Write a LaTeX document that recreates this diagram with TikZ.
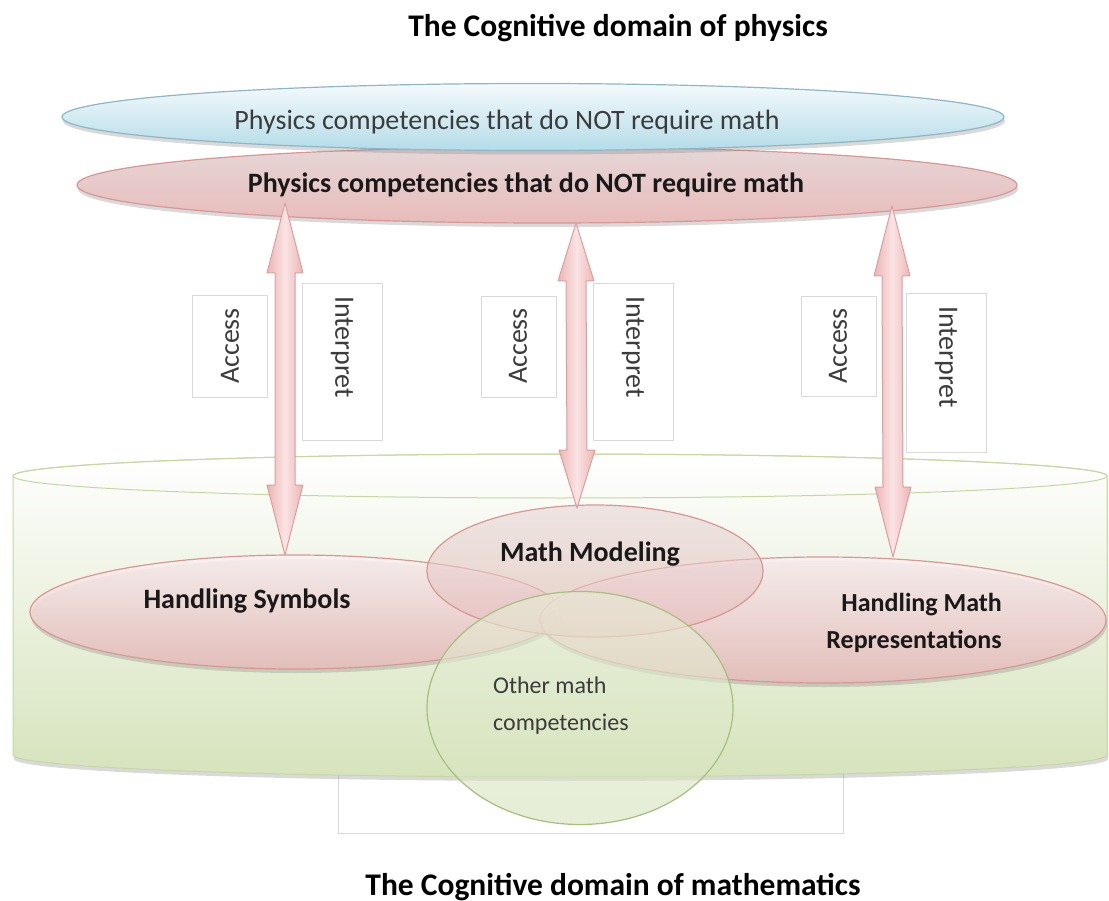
\documentclass[tikz,border=0pt]{standalone}
\usepackage{fontspec}
\setmainfont{Carlito}
\usetikzlibrary{shapes.geometric,shadows,calc}
\definecolor{bluefill}{HTML}{B4DCE8}
\definecolor{bluetop}{HTML}{F4FAFC}
\definecolor{blueedge}{HTML}{8DB6C6}
\definecolor{pinkfill}{HTML}{E8BCBB}
\definecolor{pinktop}{HTML}{E6D6D6}
\definecolor{pinklight}{HTML}{FBF1F1}
\definecolor{pinkedge}{HTML}{D99694}
\definecolor{arrowfill}{HTML}{EDB4B4}
\definecolor{arrowlight}{HTML}{FAE4E4}
\definecolor{arrowedge}{HTML}{DE9E9E}
\definecolor{greenfill}{HTML}{D6E3BC}
\definecolor{greenedge}{HTML}{C6D89F}
\definecolor{circedge}{HTML}{A8BF7C}
\definecolor{txtgray}{HTML}{3C3C3C}

\tikzset{
  oval/.style={ellipse, inner sep=0pt, line width=1.2pt},
  softshadow/.style={drop shadow={opacity=0.3, shadow xshift=1pt, shadow yshift=-4pt}},
  pinkoval/.style={oval, draw=pinkedge, top color=pinklight, bottom color=pinkfill},
  lblbox/.style={draw=gray!30, fill=white, line width=0.8pt,
    drop shadow={opacity=0.12, shadow xshift=1pt, shadow yshift=-1pt}},
  lbltext/.style={text=txtgray, inner sep=0pt},
  boldtext/.style={font=\bfseries\fontsize{28}{34}\selectfont, text=black!90, inner sep=0pt},
  accarrow/.style={draw=arrowedge, line width=1pt, line join=round,
    left color=arrowfill, right color=arrowfill, middle color=arrowlight},
}

% fat double arrow between two named points (top, bottom), optional head length
\newcommand{\dblarrow}[3][70pt]{%
  \path[accarrow] let \p1=(#2), \p2=(#3) in
    (\p1) -- (\x1+18pt,\y1-#1) -- (\x1+10pt,\y1-#1) -- (\x2+10pt,\y2+#1)
    -- (\x2+18pt,\y2+#1) -- (\p2) -- (\x2-18pt,\y2+#1) -- (\x2-10pt,\y2+#1)
    -- (\x1-10pt,\y1-#1) -- (\x1-18pt,\y1-#1) -- cycle;}

\begin{document}
\begin{tikzpicture}[x=1pt, y=-1pt, font=\fontsize{28}{34}\selectfont]
\useasboundingbox (0,0) rectangle (1109,901);

% Titles
\node[anchor=base, font=\bfseries\fontsize{31.5}{38}\selectfont] (ttlphys) at (618,37) {The Cognitive domain of physics};
\node[anchor=base, font=\bfseries\fontsize{31.5}{38}\selectfont] (ttlmath) at (613,895) {The Cognitive domain of mathematics};

% White box below the cylinder
\draw[gray!30, fill=white, line width=0.8pt] (338,720) rectangle (843,833);

% Cylinder of mathematics
\path[draw=greenedge, line width=1pt, top color=white, bottom color=greenfill, softshadow]
  (13,476) -- (13,755) arc[start angle=180, end angle=360, x radius=547pt, y radius=22pt]
  -- (1107,476) arc[start angle=0, end angle=180, x radius=547pt, y radius=22pt] -- cycle;
\draw[greenedge, line width=1pt] (560,476) ellipse[x radius=547pt, y radius=22pt];

% Math competencies
\node[pinkoval, fill opacity=0.85, softshadow, minimum width=530pt, minimum height=114pt] (symb) at (295,612) {};
\node[pinkoval, fill opacity=0.85, softshadow, minimum width=566pt, minimum height=126pt] (repr) at (823,620) {};
\node[pinkoval, top color=pinktop, fill opacity=0.6, minimum width=336pt, minimum height=132pt] (model) at (595,571) {};
\node[oval, draw=circedge, top color=greenfill!60, bottom color=greenfill, fill opacity=0.6,
  minimum width=306pt, minimum height=233pt] (other) at (580,708) {};

\node[boldtext, anchor=base] (symbtxt) at (247,608) {Handling Symbols};
\node[boldtext, anchor=base] (modeltxt) at (590,561) {Math Modeling};
\node[boldtext, anchor=base east, font=\bfseries\fontsize{26}{32}\selectfont] (reprtxta) at (1002,611) {Handling Math};
\node[boldtext, anchor=base east, font=\bfseries\fontsize{26}{32}\selectfont] (reprtxtb) at (1002,648) {Representations};
\node[lbltext, anchor=base west, font=\fontsize{24}{30}\selectfont] (othertxta) at (493,693) {Other math};
\node[lbltext, anchor=base west, font=\fontsize{24}{30}\selectfont] (othertxtb) at (493,730) {competencies};

% Physics competencies
\node[oval, draw=pinkedge, top color=pinktop, bottom color=pinkfill, softshadow,
  minimum width=940pt, minimum height=76pt] (physmath) at (547,185) {};
\node[oval, draw=blueedge, top color=bluetop, bottom color=bluefill, softshadow,
  minimum width=942pt, minimum height=67pt] (phys) at (533,117) {};
\node[lbltext, anchor=base] (phystxt) at (507,130) {Physics competencies that do NOT require math};
\node[boldtext, anchor=base] (physmathtxt) at (526,193) {Physics competencies that do NOT require math};

% Access / Interpret arrows
\coordinate (arr1a) at (285,203); \coordinate (arr1b) at (285,555);
\coordinate (arr2a) at (576,223); \coordinate (arr2b) at (577,508);
\coordinate (arr3a) at (892,206); \coordinate (arr3b) at (893,557);
\dblarrow{arr1a}{arr1b}
\dblarrow[58pt]{arr2a}{arr2b}
\dblarrow{arr3a}{arr3b}

% Label boxes
\foreach \bx/\by/\bw/\bh in {192/295/75/102, 302/283/80/157, 481/296/75/101,
  593/283/80/157, 801/296/75/100, 906/293/80/159}
  \draw[lblbox] (\bx,\by) rectangle ++(\bw,\bh);

\node[lbltext, rotate=90] (acc1) at (230,346) {Access};
\node[lbltext, rotate=-90] (int1) at (342,347) {Interpret};
\node[lbltext, rotate=90] (acc2) at (518,346) {Access};
\node[lbltext, rotate=-90] (int2) at (633,347) {Interpret};
\node[lbltext, rotate=90] (acc3) at (838,346) {Access};
\node[lbltext, rotate=-90] (int3) at (946,357) {Interpret};
\end{tikzpicture}
\end{document}
